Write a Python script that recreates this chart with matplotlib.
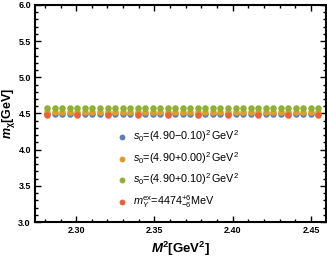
import matplotlib
matplotlib.use("Agg")
import matplotlib.pyplot as plt
from matplotlib.ticker import MultipleLocator

plt.rcParams['font.family'] = ['Liberation Sans', 'DejaVu Sans']
plt.rcParams['mathtext.fontset'] = 'custom'
plt.rcParams['mathtext.rm'] = 'Liberation Sans'
plt.rcParams['mathtext.it'] = 'Liberation Sans:italic'
plt.rcParams['mathtext.bf'] = 'Liberation Sans:bold'
plt.rcParams['mathtext.bfit'] = 'Liberation Sans:italic:bold'

# Data
M2 = [2.2816, 2.2864, 2.2912, 2.2960, 2.3008, 2.3056, 2.3104, 2.3153, 2.3201,
      2.3249, 2.3297, 2.3345, 2.3393, 2.3441, 2.3489, 2.3537, 2.3585, 2.3633,
      2.3681, 2.3729, 2.3778, 2.3826, 2.3874, 2.3922, 2.3970, 2.4018, 2.4066,
      2.4114, 2.4162, 2.4210, 2.4258, 2.4306, 2.4354, 2.4403, 2.4451, 2.4499,
      2.4547]
m_low = [4.49, 4.49, 4.49, 4.49, 4.49, 4.49, 4.49, 4.49, 4.49, 4.49, 4.49,
         4.49, 4.49, 4.49, 4.49, 4.49, 4.49, 4.49, 4.49, 4.49, 4.49, 4.49,
         4.49, 4.49, 4.49, 4.49, 4.49, 4.49, 4.49, 4.49, 4.49, 4.49, 4.49,
         4.49, 4.49, 4.49, 4.49]
m_mid = [4.525, 4.525, 4.525, 4.525, 4.525, 4.525, 4.525, 4.525, 4.525, 4.525,
         4.525, 4.525, 4.525, 4.525, 4.525, 4.525, 4.525, 4.525, 4.525, 4.525,
         4.525, 4.525, 4.525, 4.525, 4.525, 4.525, 4.525, 4.525, 4.525, 4.525,
         4.525, 4.525, 4.525, 4.525, 4.525, 4.525, 4.525]
m_high = [4.575, 4.575, 4.575, 4.575, 4.575, 4.575, 4.575, 4.575, 4.575, 4.575,
          4.575, 4.575, 4.575, 4.575, 4.575, 4.575, 4.575, 4.575, 4.575, 4.575,
          4.575, 4.575, 4.575, 4.575, 4.575, 4.575, 4.575, 4.575, 4.575, 4.575,
          4.575, 4.575, 4.575, 4.575, 4.575, 4.575, 4.575]
M2_ex = [2.2816, 2.3008, 2.3201, 2.3393, 2.3585, 2.3778, 2.3970, 2.4162,
         2.4354, 2.4547]
m_ex = [4.474, 4.474, 4.474, 4.474, 4.474, 4.474, 4.474, 4.474, 4.474, 4.474]

labels = [r'$s_0$=(4.90$-$0.10)$^2\,$GeV$^2$',
          r'$s_0$=(4.90+0.00)$^2\,$GeV$^2$',
          r'$s_0$=(4.90+0.10)$^2\,$GeV$^2$',
          r'$m_{Y}^{\mathrm{ex}}$=4474$^{+6}_{-6}$MeV']
colors = ['#5E81B5', '#E19C24', '#8FB032', '#EB6235']

fig = plt.figure(figsize=(3.27, 2.60), dpi=100)
ax = fig.add_axes([35/327, 38/260, 291/327, 217/260])

ms = 22
ax.scatter(M2, m_low, s=ms, color=colors[0], label=labels[0], linewidths=0, zorder=3)
ax.scatter(M2, m_mid, s=ms, color=colors[1], label=labels[1], linewidths=0, zorder=3)
ax.scatter(M2, m_high, s=ms, color=colors[2], label=labels[2], linewidths=0, zorder=3)
ax.scatter(M2_ex, m_ex, s=ms, color=colors[3], label=labels[3], linewidths=0, zorder=4)

ax.set_xlim(2.2737, 2.4596)
ax.set_ylim(3.0, 6.0)
ax.xaxis.set_major_locator(MultipleLocator(0.05))
ax.xaxis.set_minor_locator(MultipleLocator(0.01))
ax.yaxis.set_major_locator(MultipleLocator(0.5))
ax.yaxis.set_minor_locator(MultipleLocator(0.1))
ax.xaxis.set_major_formatter(plt.FormatStrFormatter('%.2f'))
ax.yaxis.set_major_formatter(plt.FormatStrFormatter('%.1f'))
ax.tick_params(which='both', direction='in', top=True, right=True, width=1.0,
               labelsize=6.5, pad=3)
ax.tick_params(which='major', length=4)
ax.tick_params(which='minor', length=2)
for lab in ax.get_xticklabels() + ax.get_yticklabels():
    lab.set_fontweight('bold')
for sp in ax.spines.values():
    sp.set_linewidth(1.5)

ax.set_xlabel(r'$\mathbfit{M}^{\mathbf{2}}$[GeV$^{\mathbf{2}}$]', fontsize=9.5,
              fontweight='bold', labelpad=3)
ax.set_ylabel(r'$\mathbfit{m}_{\mathbf{\chi}}$[GeV]', fontsize=9,
              fontweight='bold', labelpad=1)

leg = fig.legend(loc='upper left', bbox_to_anchor=(119/327, 1 - 128/260),
                 frameon=False, fontsize=7.8, handlelength=0.6, handletextpad=0.7,
                 labelspacing=0.55, borderpad=0, borderaxespad=0,
                 markerscale=0.9)

fig.savefig('out.png', dpi=100)
